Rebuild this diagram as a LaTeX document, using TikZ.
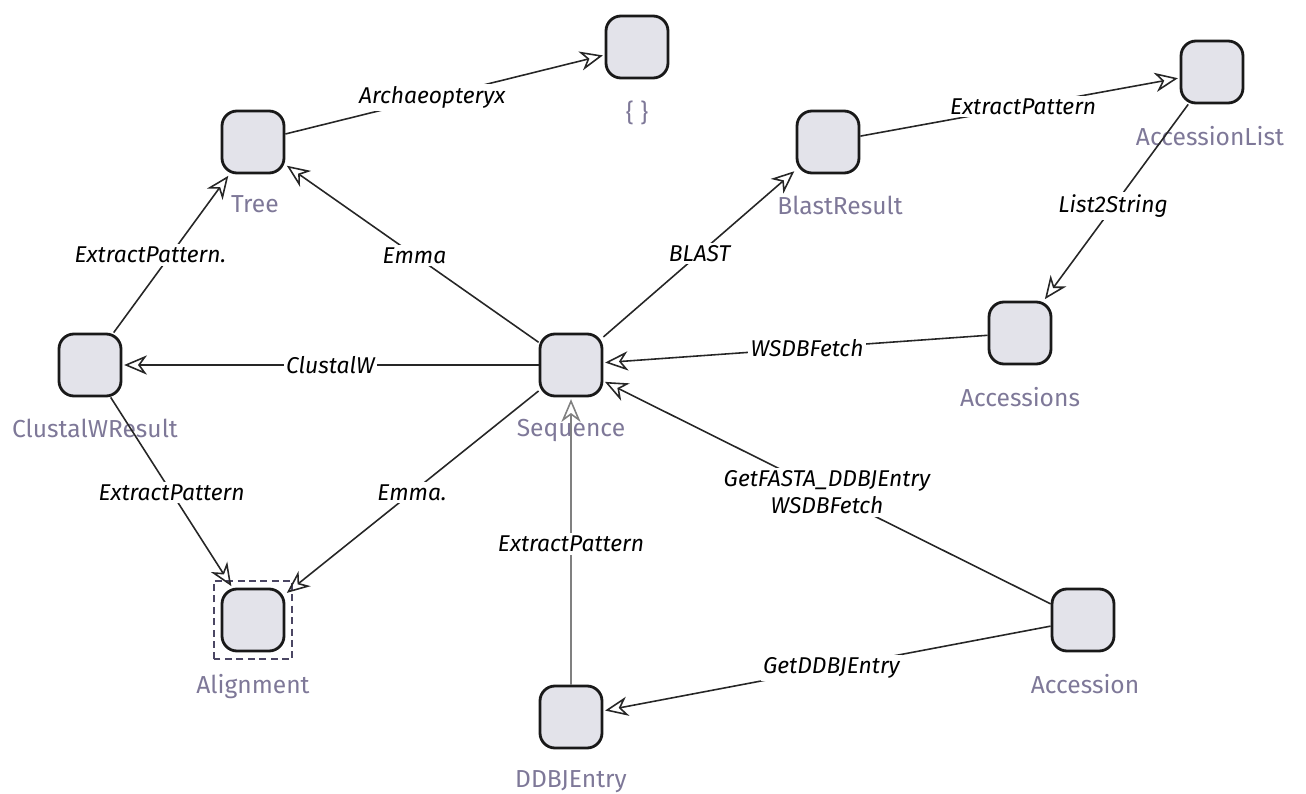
\documentclass[tikz,border=0pt]{standalone}
\usepackage{fontspec}
\setmainfont{Fira Sans}
\usetikzlibrary{arrows.meta}
\definecolor{boxfill}{HTML}{E3E3EA}
\definecolor{lblcol}{HTML}{7E7898}
\definecolor{selcol}{HTML}{4B4663}
\begin{document}
\begin{tikzpicture}[x=0.02cm,y=-0.02cm,
    box/.style={draw=black!90,fill=boxfill,line width=1.6pt,rounded corners=0.3cm,
      minimum size=1.24cm,inner sep=0pt},
    boxlbl/.style={text=lblcol,font=\fontsize{14}{16}\selectfont,inner sep=1pt},
    link/.style={draw=black!85,line width=0.9pt,shorten >=1pt,
      -{Stealth[open,length=13pt,width=11pt,inset=4pt,line width=0.9pt]}},
    tool/.style={fill=white,inner sep=1.5pt,align=center,
      font=\fontsize{13}{15.5}\selectfont\itshape}]
  \useasboundingbox (0,0) rectangle (1306,794);

  % data types
  \foreach \id/\x/\y/\dx/\txt in {empty/637/47/0/{\{\ \}}, tree/253/142/2/Tree,
      blast/828/142/12/BlastResult, acclist/1212/72/-2/AccessionList,
      accs/1020/333/0/Accessions, seq/571/365/0/Sequence,
      clus/90/365/5/ClustalWResult, align/253/620/0/Alignment,
      ddbj/571/717/0/DDBJEntry, acc/1083/620/2/Accession}{
    \node[box,label={[boxlbl,label distance=11pt,xshift=\dx*0.02cm]below:\txt}] (\id) at (\x,\y) {};
  }
  \draw[selcol,line width=1.1pt,dash pattern=on 4pt off 2.5pt] ([shift={(-7,7)}]align.south west) rectangle ([shift={(7,-7)}]align.north east);

  % services
  \draw[link] (tree) -- node[tool,pos=.46]{Archaeopteryx} (empty);
  \draw[link] (seq) -- node[tool,pos=.49]{Emma} (tree);
  \draw[link] (clus) -- node[tool,pos=.49,xshift=-0.4cm]{ExtractPattern.} (tree);
  \draw[link] (seq) -- node[tool,pos=.5]{ClustalW} (clus);
  \draw[link] (seq) -- node[tool,pos=.5]{BLAST} (blast);
  \draw[link] (blast) -- node[tool,pos=.51]{ExtractPattern} (acclist);
  \draw[link] (acclist) -- node[tool,pos=.52]{List2String} (accs);
  \draw[link] (accs) -- node[tool,pos=.47]{WSDBFetch} (seq);
  \draw[link] (acc) -- node[tool,pos=.5]{GetFASTA\_DDBJEntry\\WSDBFetch} (seq);
  \draw[link] (acc) -- node[tool,pos=.49]{GetDDBJEntry} (ddbj);
  \draw[link,draw=gray] (ddbj) -- node[tool,pos=.49]{ExtractPattern} (seq);
  \draw[link] (clus) -- node[tool,pos=.5]{ExtractPattern} (align);
  \draw[link] (seq) -- node[tool,pos=.5]{Emma.} (align);
\end{tikzpicture}
\end{document}
